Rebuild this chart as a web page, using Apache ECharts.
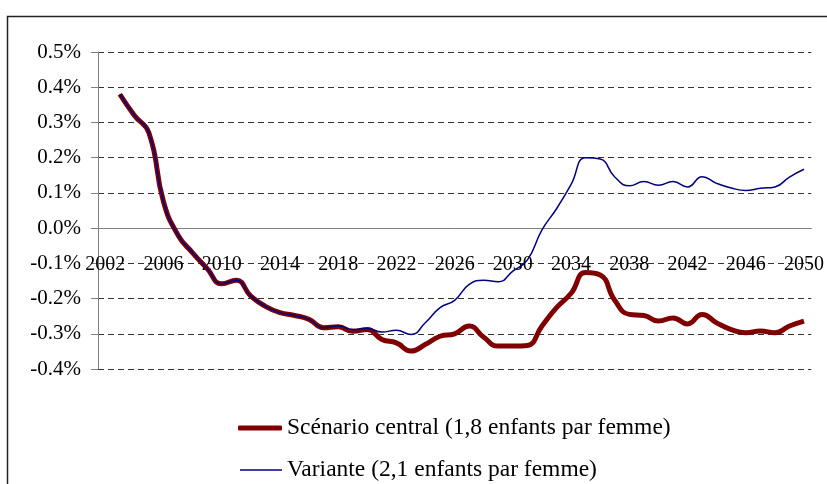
<!DOCTYPE html>
<html>
	<head>
		<meta charset="utf-8">
		<title>Scénarios</title>
		<style type="text/css">
			html,body {
				margin: 0;
				padding: 0;
				background: #FFFFFF;
			}
			#chart {
				width: 827px;
				height: 484px;
			}
		</style>
	</head>
	<body>
		<div id="chart"></div>
	</body>
</html>
<script src="https://cdn.jsdelivr.net/npm/echarts@6/dist/echarts.min.js" type="text/javascript" charset="utf-8"></script>
<script type="text/javascript">
	// années 2002 -> 2050
	var years = [];
	for (var y = 2002; y <= 2050; y++) {
		years.push(String(y));
	}
	// valeurs en %
	var central = [null, 0.38, 0.32, 0.27, 0.075, -0.02, -0.07, -0.115, -0.158, -0.148,
		-0.193, -0.222, -0.24, -0.248, -0.259, -0.283, -0.28, -0.293, -0.288, -0.316,
		-0.326, -0.349, -0.33, -0.307, -0.30, -0.278, -0.31, -0.335, -0.335, -0.333,
		-0.278, -0.226, -0.185, -0.126, -0.133, -0.205, -0.245, -0.248, -0.264, -0.255,
		-0.272, -0.245, -0.269, -0.288, -0.297, -0.292, -0.297, -0.278, -0.264];
	var variante = [null, 0.38, 0.32, 0.27, 0.075, -0.02, -0.07, -0.115, -0.158, -0.148,
		-0.193, -0.222, -0.24, -0.248, -0.259, -0.283, -0.277, -0.288, -0.285, -0.295,
		-0.29, -0.302, -0.268, -0.226, -0.205, -0.16, -0.148, -0.152, -0.122, -0.09,
		-0.005, 0.055, 0.124, 0.2, 0.196, 0.145, 0.12, 0.132, 0.122, 0.132,
		0.117, 0.146, 0.127, 0.114, 0.107, 0.113, 0.117, 0.145, 0.167];
	var seriesNames = ['Scénario central (1,8 enfants par femme)', 'Variante (2,1 enfants par femme)'];

	var font = "'Liberation Serif', 'DejaVu Serif', serif";
	var myChart = echarts.init(document.getElementById('chart'));
	var option = {
		backgroundColor: '#FFFFFF',
		animation: false,
		graphic: [{
			type: 'rect',
			shape: { x: 7.5, y: 16.5, width: 900, height: 600 },
			style: { fill: 'none', stroke: '#222', lineWidth: 1.5 },
			silent: true
		}],
		grid: {
			left: 98,
			right: 15,
			top: 52,
			bottom: 115
		},
		legend: [{
			left: 233,
			top: 411,
			icon: 'roundRect',
			itemWidth: 44,
			itemHeight: 5,
			itemStyle: { color: '#800000' },
			textStyle: { fontFamily: font, fontSize: 23.5, color: '#000' },
			data: [seriesNames[0]]
		}, {
			left: 235,
			top: 453,
			icon: 'rect',
			itemWidth: 42,
			itemHeight: 1.5,
			itemStyle: { color: '#000080' },
			textStyle: { fontFamily: font, fontSize: 23.5, color: '#000' },
			data: [seriesNames[1]]
		}],
		xAxis: {
			type: 'category',
			data: years,
			boundaryGap: true,
			axisLine: { onZero: true, lineStyle: { color: '#808080', width: 1 } },
			axisTick: { interval: 3, length: 6, lineStyle: { color: '#808080' } },
			axisLabel: { interval: 3, margin: -114, fontFamily: font, fontSize: 20, color: '#000' }
		},
		yAxis: {
			type: 'value',
			min: -0.4,
			max: 0.5,
			interval: 0.1,
			axisLine: { show: true, lineStyle: { color: '#808080', width: 1 } },
			axisTick: { show: true, length: 7, lineStyle: { color: '#808080' } },
			axisLabel: {
				margin: 17,
				fontFamily: font,
				fontSize: 21,
				color: '#000',
				formatter: function (v) {
					if (Math.abs(v) < 1e-9) v = 0;
					return v.toFixed(1) + '%';
				}
			},
			splitLine: { lineStyle: { color: '#333', type: [6, 4], width: 1 } }
		},
		series: [{
			name: seriesNames[0],
			type: 'line',
			data: central,
			smooth: true,
			symbol: 'none',
			lineStyle: { color: '#800000', width: 5 },
			itemStyle: { color: '#800000' }
		}, {
			name: seriesNames[1],
			type: 'line',
			data: variante,
			smooth: true,
			symbol: 'none',
			lineStyle: { color: '#000080', width: 1.5 },
			itemStyle: { color: '#000080' }
		}]
	};
	myChart.setOption(option);
</script>
